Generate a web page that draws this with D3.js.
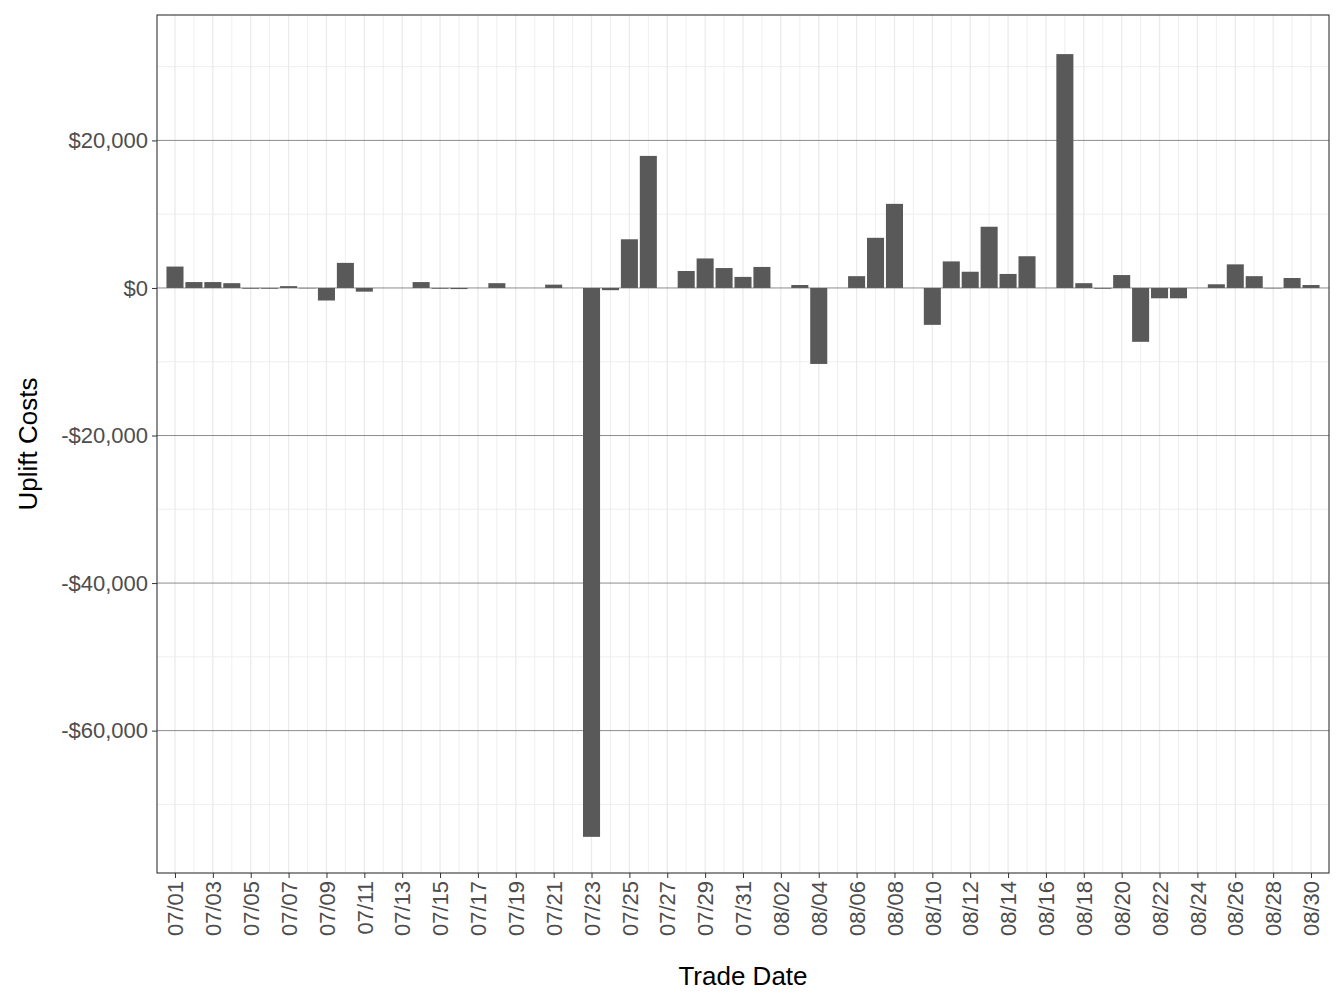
<!DOCTYPE html>
<html>
<head>
<meta charset="utf-8">
<script src="https://cdn.jsdelivr.net/npm/d3@7"></script>
<style>
  body { margin: 0; background: #fff; }
  svg { font-family: "Liberation Sans", Arial, sans-serif; }
</style>
</head>
<body>
<div id="chart"></div>
<script>
// trade dates, 07/01 .. 08/30
const dates = [];
for (let m = 7; m <= 8; m++) {
  const last = m === 7 ? 31 : 30;
  for (let d = 1; d <= last; d++) dates.push(`0${m}/${String(d).padStart(2, "0")}`);
}

// uplift cost per day
const uplift = [
  2900, 800, 800, 650, -100, -100, 250, -50, -1700, 3400,
  -500, 0, 0, 800, -100, -150, 0, 650, 0, 0,
  450, 0, -74400, -300, 6600, 17900, 0, 2300, 4000, 2700,
  1500, 2850, 0, 400, -10300, 0, 1600, 6800, 11400, 0,
  -5000, 3600, 2200, 8300, 1900, 4300, 0, 31700, 650, -100,
  1750, -7300, -1400, -1400, 0, 500, 3200, 1600, -50, 1350,
  400
];

const yTicks = [-60000, -40000, -20000, 0, 20000];

const margin = {top: 15, right: 15, bottom: 135, left: 157},
    width = 1344 - margin.left - margin.right,
    height = 1008 - margin.top - margin.bottom;

const svg = d3.select("#chart").append("svg")
    .attr("width", 1344).attr("height", 1008)
  .append("g")
    .attr("transform", `translate(${margin.left},${margin.top})`);

const x = d3.scaleLinear().domain([-0.95, dates.length - 0.05]).range([0, width]);
const y = d3.scaleLinear().domain([-79300, 37000]).range([height, 0]);

// minor grid
for (let v = -70000; v <= 30000; v += 20000)
  svg.append("line").attr("x1", 0).attr("x2", width)
    .attr("y1", y(v)).attr("y2", y(v)).attr("stroke", "#ebebeb").attr("stroke-width", 0.8);
dates.forEach((d, i) => {
  svg.append("line").attr("y1", 0).attr("y2", height)
    .attr("x1", x(i)).attr("x2", x(i)).attr("stroke", "#ebebeb")
    .attr("stroke-width", i % 2 === 0 ? 1.3 : 0.8);
});
// major horizontal grid
yTicks.forEach(v => {
  svg.append("line").attr("x1", 0).attr("x2", width)
    .attr("y1", y(v)).attr("y2", y(v)).attr("stroke", "#6e6e6e").attr("stroke-width", 0.8);
});

// bars
const bw = (x(1) - x(0)) * 0.9;
svg.selectAll("rect.bar").data(uplift).enter().append("rect")
  .attr("class", "bar")
  .attr("x", (d, i) => x(i) - bw / 2)
  .attr("width", bw)
  .attr("y", d => y(Math.max(0, d)))
  .attr("height", d => Math.abs(y(d) - y(0)))
  .attr("fill", "#595959");

// panel border
svg.append("rect").attr("width", width).attr("height", height)
  .attr("fill", "none").attr("stroke", "#333").attr("stroke-width", 1.1);

// y axis
const yAxis = svg.append("g")
  .call(d3.axisLeft(y).tickValues(yTicks).tickSizeOuter(0).tickSizeInner(5).tickPadding(4)
    .tickFormat(v => (v < 0 ? "-$" : "$") + d3.format(",")(Math.abs(v))));
yAxis.select(".domain").remove();
yAxis.selectAll("line").attr("stroke", "#333");
yAxis.selectAll("text").attr("fill", "#4d4d4d").style("font-size", "22px");

// x axis
const xIdx = dates.map((d, i) => i).filter(i => i % 2 === 0);
const xAxis = svg.append("g").attr("transform", `translate(0,${height})`)
  .call(d3.axisBottom(x).tickValues(xIdx).tickSizeOuter(0).tickSizeInner(5)
    .tickFormat(i => dates[i]));
xAxis.select(".domain").remove();
xAxis.selectAll("line").attr("stroke", "#333");
xAxis.selectAll("text").attr("fill", "#4d4d4d").style("font-size", "22px")
  .attr("transform", "rotate(-90)").attr("text-anchor", "end")
  .attr("x", -8).attr("y", 0).attr("dy", "0.35em");

svg.append("text").attr("x", width / 2).attr("y", height + 112)
  .attr("text-anchor", "middle").style("font-size", "26px").text("Trade Date");
svg.append("text").attr("transform", "rotate(-90)")
  .attr("x", -height / 2).attr("y", -120)
  .attr("text-anchor", "middle").style("font-size", "26px").text("Uplift Costs");
</script>
</body>
</html>
